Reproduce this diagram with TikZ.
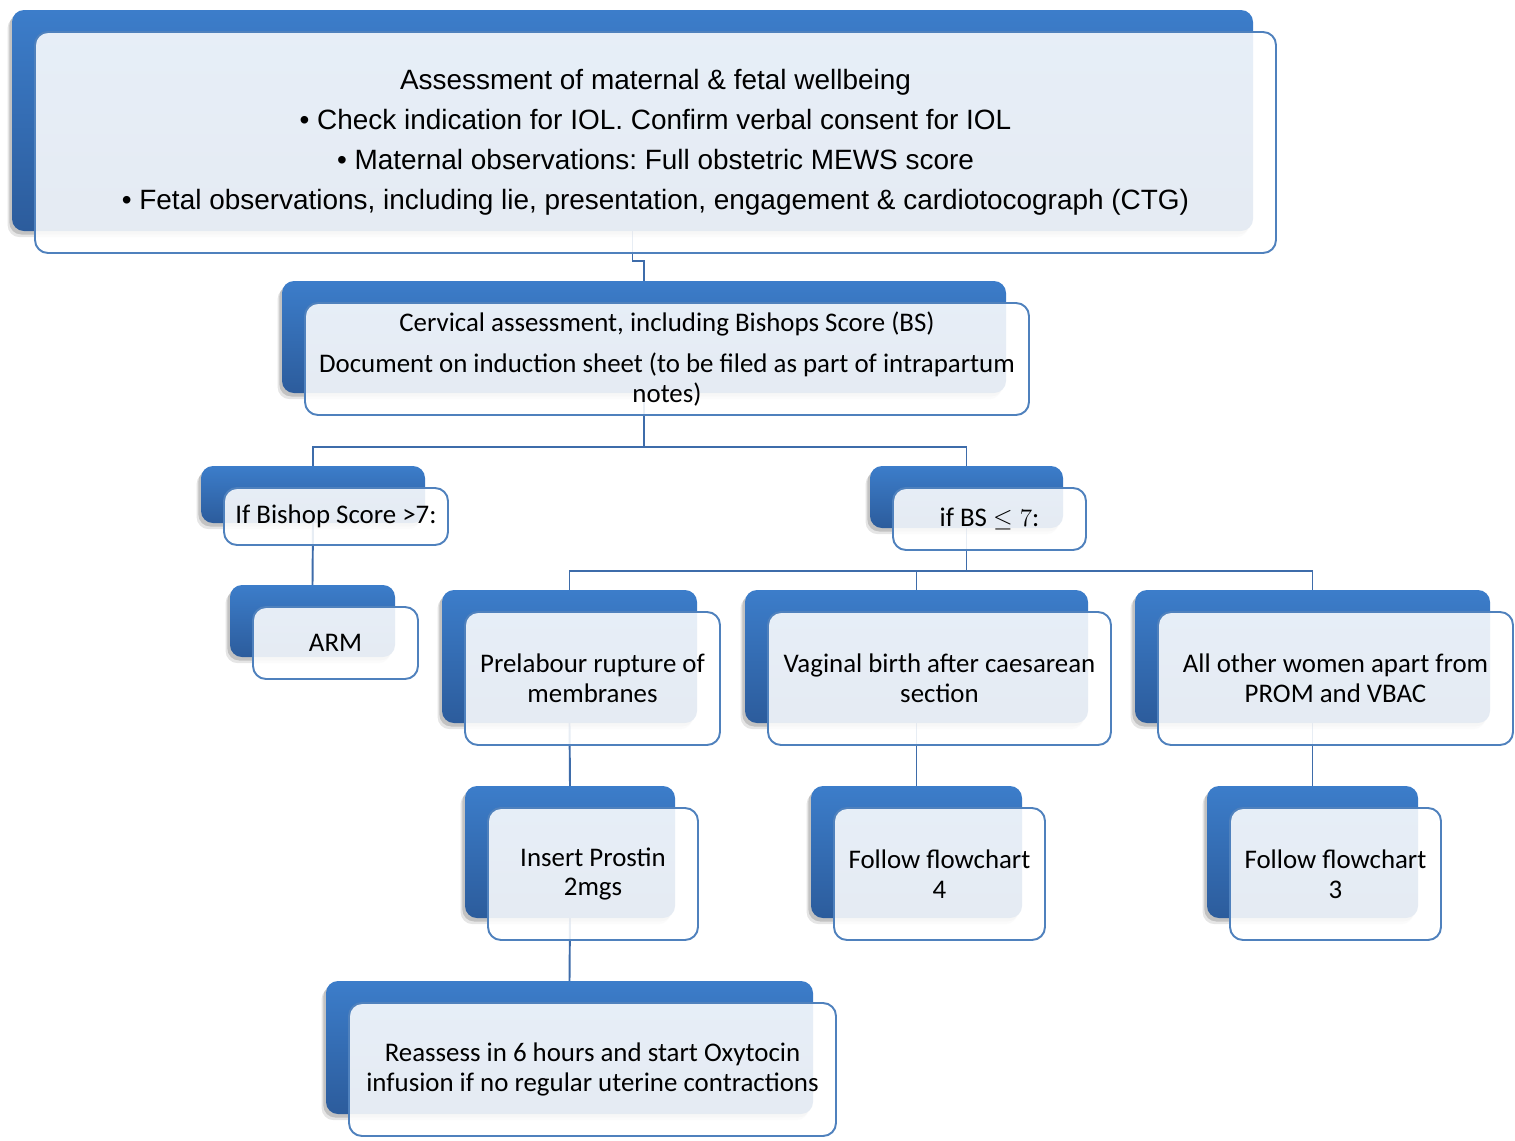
\documentclass[tikz,border=0pt]{standalone}
\usepackage{fontspec}
\setmainfont{Carlito}
\newfontfamily\arialf{Liberation Sans}
\frenchspacing
\usetikzlibrary{shadows}
\definecolor{bluetop}{RGB}{60,125,202}
\definecolor{bluebot}{RGB}{44,92,156}
\definecolor{frameblue}{RGB}{79,129,189}
\definecolor{connblue}{RGB}{62,108,170}
\pgfdeclarelayer{bg}
\pgfsetlayers{bg,main}
\tikzset{
  backbox/.style={rectangle, rounded corners=0.24cm, draw=none, inner sep=0pt, outer sep=0pt,
    top color=bluetop, bottom color=bluebot,
    drop shadow={shadow xshift=-2.5pt, shadow yshift=-3.5pt, opacity=0.10, fill=black},
    drop shadow={shadow xshift=-1.5pt, shadow yshift=-2pt, opacity=0.15, fill=black}},
  frontbox/.style={rectangle, rounded corners=0.26cm, draw=frameblue, line width=1.1pt,
    fill=white, fill opacity=0.88, text opacity=1, inner sep=0pt, outer sep=0pt, align=center,
    font=\fontsize{15.3}{17}\selectfont},
  topfont/.style={font=\arialf\fontsize{15.9}{22.7}\selectfont},
  conn/.style={draw=connblue, line width=1.1pt}
}
\newcommand{\dualbox}[7][]{%
  \node[backbox, anchor=north west, minimum width=#5*0.02cm, minimum height=#6*0.02cm] (#2b) at (#3,#4) {};
  \node[frontbox, #1, anchor=north west, minimum width=#5*0.02cm, minimum height=#6*0.02cm] (#2) at ({#3+23},{#4+22}) {#7};
}
\begin{document}
\begin{tikzpicture}[x=0.02cm, y=-0.02cm]
\useasboundingbox (0,0) rectangle (1515,1140);
\begin{pgfonlayer}{bg}
  \fill[white] (0,0) rectangle (1515,1140);
\end{pgfonlayer}

\dualbox[topfont]{top}{12}{10}{1241}{221}{%
  Assessment of maternal \& fetal wellbeing\\
  • Check indication for IOL. Confirm verbal consent for IOL\\
  • Maternal observations: Full obstetric MEWS score\\
  • Fetal observations, including lie, presentation, engagement \& cardiotocograph (CTG)}
\dualbox{cerv}{282}{281}{724}{112}{Cervical assessment, including Bishops Score (BS)\\[6.5pt]
  Document on induction sheet (to be filed as part of intrapartum\\ notes)}
\dualbox{bisg}{201}{466}{224}{57}{If Bishop Score >7:}
\dualbox{bisl}{870}{466}{193}{62}{if BS $\leq 7$:}
\dualbox{arm}{230}{585}{165}{72}{ARM}
\dualbox{prom}{442}{590}{255}{133}{Prelabour rupture of\\ membranes}
\dualbox{vbac}{745}{590}{343}{133}{Vaginal birth after caesarean\\ section}
\dualbox{other}{1135}{590}{355}{133}{All other women apart from\\ PROM and VBAC}
\dualbox{ins}{465}{786}{210}{132}{Insert Prostin\\ 2mgs}
\dualbox{ffour}{811}{786}{211}{132}{Follow flowchart\\ 4}
\dualbox{fthree}{1207}{786}{211}{132}{Follow flowchart\\ 3}
\dualbox{reas}{326}{981}{487}{133}{Reassess in 6 hours and start Oxytocin\\ infusion if no regular uterine contractions}

\begin{pgfonlayer}{bg}
  \draw[conn] (topb.south) -- ++(0,30) -| (cervb.north);
  \draw[conn] (cervb.south) -- ++(0,54) -| (bisgb.north);
  \draw[conn] (cervb.south) -- ++(0,54) -| (bislb.north);
  \draw[conn] (bisgb.south) -- (armb.north);
  \draw[conn] (bislb.south) -- ++(0,43) -| (promb.north);
  \draw[conn] (bislb.south) -- ++(0,43) -| (vbacb.north);
  \draw[conn] (bislb.south) -- ++(0,43) -| (otherb.north);
  \draw[conn] (promb.south) -- (insb.north);
  \draw[conn] (vbacb.south) -- (ffourb.north);
  \draw[conn] (otherb.south) -- (fthreeb.north);
  \draw[conn] (insb.south) -- (reasb.north);
\end{pgfonlayer}
\end{tikzpicture}
\end{document}
